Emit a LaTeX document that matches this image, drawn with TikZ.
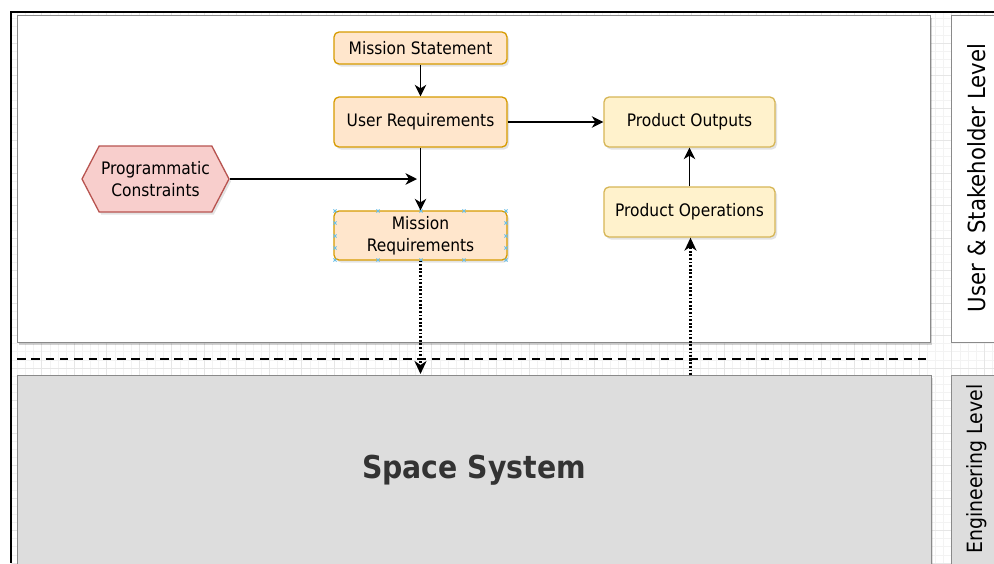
\documentclass[tikz,border=0pt]{standalone}
\usepackage{fontspec}
\setmainfont{DejaVu Sans Condensed}
\usetikzlibrary{arrows.meta,shapes.symbols,shadows}

\definecolor{orangefill}{HTML}{FFE6CC}
\definecolor{orangeline}{HTML}{D79B00}
\definecolor{yellowfill}{HTML}{FFF2CC}
\definecolor{yellowline}{HTML}{D6B656}
\definecolor{redfill}{HTML}{F8CECC}
\definecolor{redline}{HTML}{B85450}
\definecolor{panelline}{HTML}{8A8A8A}
\definecolor{systemfill}{HTML}{DDDDDD}
\definecolor{systemtext}{HTML}{333333}
\definecolor{gridminor}{HTML}{F3F3F3}
\definecolor{gridmajor}{HTML}{E6E6E6}
\definecolor{handle}{HTML}{6CC0E8}

\tikzset{
  softshadow/.style={drop shadow={shadow xshift=2pt, shadow yshift=-2.5pt, opacity=0.22}},
  boxtext/.style={font=\fontsize{17.2}{21.5}\selectfont, text=black, align=center, inner sep=0pt},
  orangebox/.style={boxtext, rectangle, rounded corners=5pt, fill=orangefill, draw=orangeline, line width=1.3pt, softshadow},
  yellowbox/.style={boxtext, rectangle, rounded corners=5pt, fill=yellowfill, draw=yellowline, line width=1.3pt, softshadow},
  hexbox/.style={boxtext, signal, signal to=west and east, signal pointer angle=125,
    fill=redfill, draw=redline, line width=1.3pt, minimum width=147pt, minimum height=66pt, softshadow},
  panel/.style={draw=panelline, line width=1pt},
  flow/.style={draw=black, line width=1.5pt, -{Stealth[length=11.5pt, width=11.5pt, inset=3.5pt]}},
  trace/.style={draw=black, line width=2.2pt, dash pattern=on 1.8pt off 1.8pt, -{Stealth[length=13pt, width=12pt, inset=4pt]}},
  levelsplit/.style={draw=black, line width=2.5pt, dash pattern=on 8.5pt off 5.8pt},
  lanelabel/.style={text=black, rotate=90, inner sep=0pt},
  handlemark/.style={draw=handle, line width=0.8pt}
}

\begin{document}
\begin{tikzpicture}[x=1pt, y=-1pt]
\useasboundingbox (0,0) rectangle (994,563);

% faint editor grid behind the panels
\begin{scope}
  \clip (11,12) rectangle (994,563);
  \foreach \k in {0,...,121} {
    \draw[gridminor, line width=0.6pt] ({9.2+8.125*\k},12) -- ({9.2+8.125*\k},563);
  }
  \foreach \k in {0,...,68} {
    \draw[gridminor, line width=0.6pt] (11,{10.5+8.125*\k}) -- (994,{10.5+8.125*\k});
  }
  \foreach \k in {0,...,30} {
    \draw[gridmajor, line width=0.6pt] ({9.2+32.5*\k},12) -- ({9.2+32.5*\k},563);
  }
  \foreach \k in {0,...,17} {
    \draw[gridmajor, line width=0.6pt] (11,{10.5+32.5*\k}) -- (994,{10.5+32.5*\k});
  }
\end{scope}

% outer frame
\draw[line width=1.6pt] (11,563) -- (11,12) -- (994,12);

% user & stakeholder panel and its lane
\fill[black, opacity=0.18] (19,17.5) rectangle (932,344.5);
\filldraw[panel, fill=white] (17,15) rectangle (930,342);
\filldraw[panel, fill=white] (951,15) rectangle (1000,342);
\node[lanelabel, font=\fontsize{23.6}{28}\selectfont] (userlevel) at (977,178) {User \& Stakeholder Level};

% boundary between the two levels
\draw[levelsplit] (17,359) -- (931,359);

% engineering level
\fill[black, opacity=0.12] (19,377.5) rectangle (933,568);
\node[rectangle, fill=systemfill, draw=panelline, line width=1pt,
      minimum width=914pt, minimum height=191pt, inner sep=0pt,
      font=\bfseries\fontsize{31.5}{36}\selectfont, text=systemtext] (sys) at (474,470.5) {Space System};
\filldraw[panel, fill=systemfill] (951,375) rectangle (1000,570);
\node[lanelabel, font=\fontsize{21}{25}\selectfont] (englevel) at (977,469) {Engineering Level};

% requirement flow
\node[orangebox, minimum width=173pt, minimum height=32pt] (ms) at (420.5,48) {Mission Statement};
\node[orangebox, minimum width=173pt, minimum height=50pt] (ur) at (420.5,122) {User Requirements};
\node[orangebox, minimum width=173pt, minimum height=49pt] (mr) at (420.5,235.5) {Mission\\Requirements};
\node[hexbox] (pc) at (155.5,179) {Programmatic\\Constraints};
\node[yellowbox, minimum width=171pt, minimum height=50pt] (pout) at (689.5,122) {Product Outputs};
\node[yellowbox, minimum width=171pt, minimum height=50pt] (pops) at (689.5,212) {Product Operations};

% selection handles around the mission requirements box
\foreach \hx in {335,378,421,464,506} {
  \foreach \hy in {211,260} {
    \draw[handlemark] (\hx-1.6,\hy-1.6) -- (\hx+1.6,\hy+1.6) (\hx-1.6,\hy+1.6) -- (\hx+1.6,\hy-1.6);
  }
}
\foreach \hy in {223,236,248} {
  \foreach \hx in {335,506} {
    \draw[handlemark] (\hx-1.6,\hy-1.6) -- (\hx+1.6,\hy+1.6) (\hx-1.6,\hy+1.6) -- (\hx+1.6,\hy-1.6);
  }
}

% connectors
\coordinate (pcend) at (417,179);
\coordinate (mrdown) at (420.5,374);
\coordinate (opsup) at (690.5,375);

\draw[flow] (ms) -- (ur);
\draw[flow] (ur) -- (mr);
\draw[flow] (pc.east) -- (pcend);
\draw[flow] (ur) -- (pout);
\draw[flow] (pops) -- (pout);
\draw[trace] (mr.south) -- (mrdown);
\draw[trace] (opsup) -- (opsup |- pops.south);
\end{tikzpicture}
\end{document}
